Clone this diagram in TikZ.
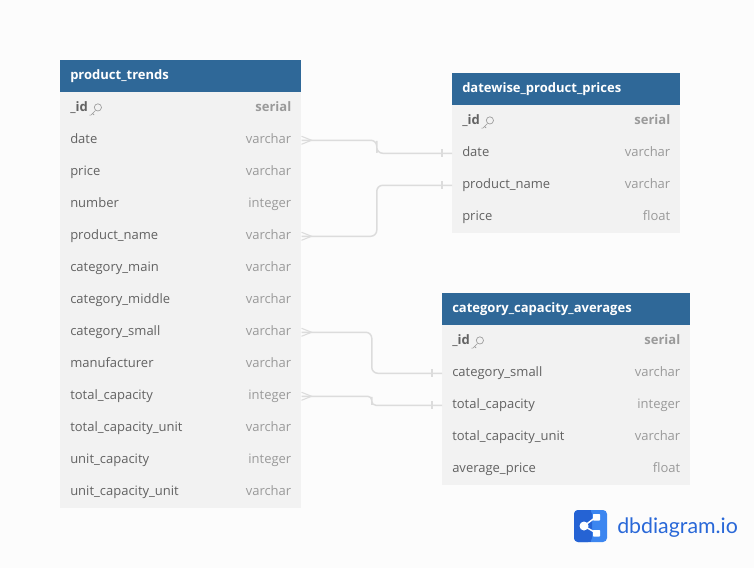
\documentclass[tikz,border=0pt]{standalone}
\usepackage{fontspec}
\setmainfont{Open Sans}
\newfontfamily\logofont{Lato}
\usetikzlibrary{calc}
\definecolor{headblue}{HTML}{2F6898}
\definecolor{rowgray}{HTML}{F2F2F2}
\definecolor{pagegray}{HTML}{FCFCFC}
\definecolor{fieldgray}{HTML}{626262}
\definecolor{typegray}{HTML}{9A9A9A}
\definecolor{linkgray}{HTML}{DCDCDC}
\definecolor{logodark}{HTML}{2563D4}
\definecolor{logolight}{HTML}{3C86F0}
\tikzset{
  headbox/.style={fill=headblue,anchor=north west,minimum height=24pt,inner sep=0pt},
  rowbox/.style={fill=rowgray,anchor=north west,minimum height=24pt,inner sep=0pt},
  headtext/.style={text=white,font=\fontsize{9.75}{12}\selectfont\bfseries,anchor=base west,inner sep=0pt},
  fieldtext/.style={text=fieldgray,font=\fontsize{9.75}{12}\selectfont,anchor=base west,inner sep=0pt},
  typetext/.style={text=typegray,font=\fontsize{9.75}{12}\selectfont,anchor=base east,inner sep=0pt},
  linkmark/.style={draw=linkgray,line width=.8pt},
  keyicon/.pic={
    \draw[typegray,line width=.5pt] (2.5,-3.2) circle[radius=3.6];
    \draw[typegray,line width=.5pt] (0,0) -- (-4.5,4.5) -- (-6,4.5) (-2.8,2.8) -- (-1.2,4.4);
  }
}
% one table: prefix, title, x, y, width, rows below the _id row
\newcommand{\dbtable}[6]{
  \node[headbox,minimum width=#5*.75pt] (#1-head) at (#3,#4) {};
  \node[headtext] (#1-title) at ([xshift=7.5pt,yshift=-2.75pt]#1-head.west) {#2};
  \node[rowbox,minimum width=#5*.75pt] (#1-0) at (#3,#4+32) {};
  \node[fieldtext,font=\fontsize{9.75}{12}\selectfont\bfseries] (#1-0-name) at ([xshift=7.5pt,yshift=-2.75pt]#1-0.west) {\_id};
  \node[typetext,font=\fontsize{9.75}{12}\selectfont\bfseries] (#1-0-type) at ([xshift=-7.5pt,yshift=-2.75pt]#1-0.east) {serial};
  \pic at ([xshift=5.5pt,yshift=1pt]#1-0-name.base east) {keyicon};
  \foreach \name/\type [count=\i] in {#6} {
    \node[rowbox,minimum width=#5*.75pt] (#1-\i) at (#3,{#4+32+32*\i}) {};
    \node[fieldtext] (#1-\i-name) at ([xshift=7.5pt,yshift=-2.75pt]#1-\i.west) {\name};
    \node[typetext] (#1-\i-type) at ([xshift=-7.5pt,yshift=-2.75pt]#1-\i.east) {\type};
  }
}
% many end, then one end
\newcommand{\manyone}[3][4.5pt]{
  \draw[draw=linkgray,line width=1.1pt,rounded corners=#1] (#2.east) -| ($(#2.east)!.5!(#3.west)$) |- (#3.west);
  \draw[linkmark] ([yshift=3pt]#2.east) -- ([xshift=7.5pt]#2.east) -- ([yshift=-3pt]#2.east);
  \draw[linkmark] ([xshift=-7.5pt,yshift=3pt]#3.west) -- ([xshift=-7.5pt,yshift=-3pt]#3.west);
}
\begin{document}
\begin{tikzpicture}[x=.75pt,y=-.75pt]
  \fill[pagegray] (0,0) rectangle (754,568);
  \useasboundingbox (0,0) rectangle (754,568);
  \dbtable{trends}{product\_trends}{60}{60}{241}{date/varchar,price/varchar,number/integer,product\_name/varchar,category\_main/varchar,category\_middle/varchar,category\_small/varchar,manufacturer/varchar,total\_capacity/integer,total\_capacity\_unit/varchar,unit\_capacity/integer,unit\_capacity\_unit/varchar}
  \dbtable{prices}{datewise\_product\_prices}{452}{73}{228}{date/varchar,product\_name/varchar,price/float}
  \dbtable{averages}{category\_capacity\_averages}{442}{293}{248}{category\_small/varchar,total\_capacity/integer,total\_capacity\_unit/varchar,average\_price/float}
  \manyone{trends-1}{prices-1}
  \manyone{trends-4}{prices-2}
  \manyone{trends-7}{averages-1}
  \manyone[3pt]{trends-9}{averages-2}
  % logo
  \fill[logolight,rounded corners=3pt] (574,510) rectangle (607,542);
  \fill[logodark,rounded corners=3pt] (574,510) rectangle (592,542);
  \fill[logodark] (588,510) rectangle (591,542);
  \draw[white,line width=1.1pt] (596,517) -- (584,526) -- (596,533);
  \fill[white] (584,526) circle[radius=4.5];
  \fill[white,rounded corners=.5pt] (593,514) rectangle (600,520.5);
  \fill[white,rounded corners=.5pt] (593,530) rectangle (600,536.5);
  \node[anchor=base west,inner sep=0pt,text=logodark!85!logolight,font=\logofont\fontsize{16}{20}\selectfont] (logotext) at (617,533) {dbdiagram.io};
\end{tikzpicture}
\end{document}
